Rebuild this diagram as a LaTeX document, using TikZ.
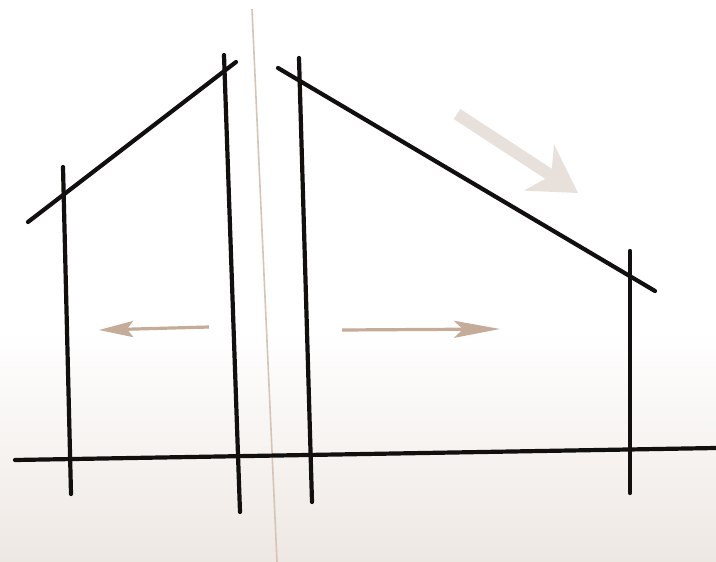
\documentclass[tikz,border=0pt]{standalone}
\usepackage{tikz}
\usetikzlibrary{arrows.meta}
\definecolor{inkBlack}{RGB}{18,16,15}
\definecolor{axisTan}{RGB}{214,196,182}
\definecolor{arrowTan}{RGB}{196,172,152}
\definecolor{fallArrow}{RGB}{232,225,219}
\definecolor{washBeige}{RGB}{238,232,227}

\tikzset{
  post/.style={inkBlack, line width=4.2pt, line cap=round},
  slope/.style={inkBlack, line width=4.2pt, line cap=round},
  push/.style={arrowTan, line width=3.2pt}
}

\begin{document}
\begin{tikzpicture}[x=1pt, y=-1pt]
    \useasboundingbox (0,0) rectangle (716,562);
    % Paper with a light wash at the bottom
    \fill[white] (0,0) rectangle (716,562);
    \shade[top color=white, bottom color=washBeige] (0,330) rectangle (716,562);
    % Corner points
    \coordinate (lslopeA) at (28,222);
    \coordinate (lslopeB) at (236,62);
    \coordinate (rslopeA) at (278,68);
    \coordinate (rslopeB) at (655,291);
    \coordinate (groundA) at (15,460);
    \coordinate (groundB) at (716,448);
    % Mirror line
    \draw[axisTan, line width=1.6pt] (252,9) -- (277,562);
    % Left roof and posts
    \draw[post] (63,167) -- (71,494);
    \draw[post] (224,55) -- (240,512);
    \draw[slope] (lslopeA) -- (lslopeB);
    % Right roof and posts
    \draw[post] (299,58) -- (312,502);
    \draw[post] (630,251) -- (630,493);
    \draw[slope] (rslopeA) -- (rslopeB);
    % Ground
    \draw[post] (groundA) -- (groundB);
    % Push arrows
    \draw[push, -{Stealth[length=34pt, width=16pt, inset=6pt]}] (209,327) -- (99,330);
    \draw[push, -{Stealth[length=46pt, width=17pt, inset=9pt]}] (342,330) -- (500,329);
    % Fall direction
    \draw[fallArrow, line width=12pt, -{Stealth[length=46pt, width=54pt, inset=14pt]}] (457,114) -- (578,193);
  \end{tikzpicture}
\end{document}
